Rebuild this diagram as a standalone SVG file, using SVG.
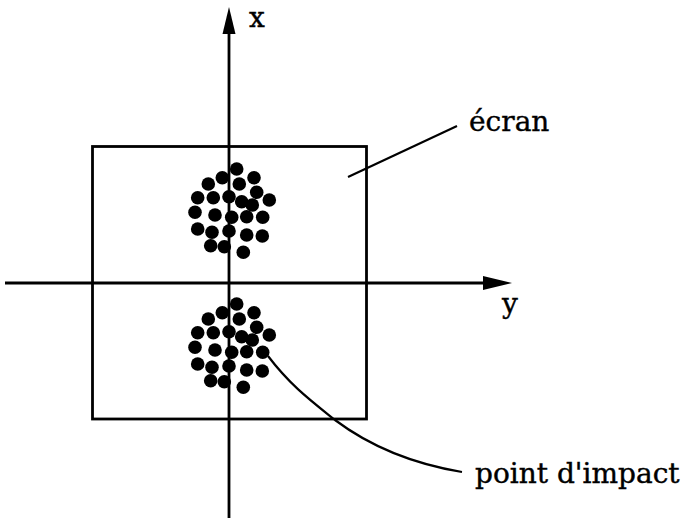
<svg xmlns="http://www.w3.org/2000/svg" xmlns:xlink="http://www.w3.org/1999/xlink" width="684" height="518" viewBox="0 0 684 518">
<style>
.ln{stroke:#000;stroke-width:2.8;fill:none}
.thin{stroke:#000;stroke-width:2.2;fill:none}
.lbl{font-family:"DejaVu Serif","Liberation Serif",serif;font-size:28px;fill:#000;stroke:#000;stroke-width:0.4}
.dot{fill:#000}
</style>
<defs>
<g id="cluster">
<circle class="dot" cx="236.7" cy="169" r="6.8"/>
<circle class="dot" cx="222.3" cy="177.7" r="6.8"/>
<circle class="dot" cx="254" cy="177.7" r="6.8"/>
<circle class="dot" cx="208.3" cy="184" r="6.8"/>
<circle class="dot" cx="239.3" cy="184" r="6.8"/>
<circle class="dot" cx="256.7" cy="192.3" r="6.8"/>
<circle class="dot" cx="197.7" cy="197.7" r="6.8"/>
<circle class="dot" cx="213.3" cy="197.7" r="6.8"/>
<circle class="dot" cx="229" cy="196.7" r="6.8"/>
<circle class="dot" cx="241.7" cy="201.7" r="6.8"/>
<circle class="dot" cx="252.3" cy="205" r="6.8"/>
<circle class="dot" cx="269.3" cy="200" r="6.8"/>
<circle class="dot" cx="195" cy="212.3" r="6.8"/>
<circle class="dot" cx="215" cy="215" r="6.8"/>
<circle class="dot" cx="231.7" cy="217.3" r="6.8"/>
<circle class="dot" cx="246.7" cy="216.7" r="6.8"/>
<circle class="dot" cx="262.7" cy="217.3" r="6.8"/>
<circle class="dot" cx="197.7" cy="229" r="6.8"/>
<circle class="dot" cx="212" cy="232.3" r="6.8"/>
<circle class="dot" cx="229" cy="231" r="6.8"/>
<circle class="dot" cx="246.7" cy="235" r="6.8"/>
<circle class="dot" cx="262.3" cy="236" r="6.8"/>
<circle class="dot" cx="210.7" cy="245.7" r="6.8"/>
<circle class="dot" cx="224.3" cy="246.7" r="6.8"/>
<circle class="dot" cx="243.3" cy="252.3" r="6.8"/>
</g>
</defs>
<rect width="684" height="518" fill="#fff"/>
<g id="ecran">
<rect class="ln" x="92.5" y="146.5" width="274" height="272.5"/>
</g>
<g id="impacts-haut"><use xlink:href="#cluster" href="#cluster"/></g>
<g id="impacts-bas"><use xlink:href="#cluster" href="#cluster" transform="translate(0,135)"/></g>
<g id="axes">
<line class="ln" x1="229" y1="28" x2="229" y2="518"/>
<polygon points="229,7 222.5,34 235.5,34" fill="#000"/>
<line class="ln" x1="5" y1="283" x2="488" y2="283"/>
<polygon points="512,283 483,276 483,290" fill="#000"/>
</g>
<g id="connectors">
<line class="thin" x1="348" y1="177" x2="457" y2="126"/>
<path class="thin" d="M268,356 C290,385 310,400 335,420 C375,450 420,465 462,472"/>
</g>
<g id="labels">
<text class="lbl" x="249" y="27">x</text>
<text class="lbl" x="502" y="313">y</text>
<text class="lbl" x="469" y="131">écran</text>
<text class="lbl" x="475" y="483">point d'impact</text>
</g>
</svg>
